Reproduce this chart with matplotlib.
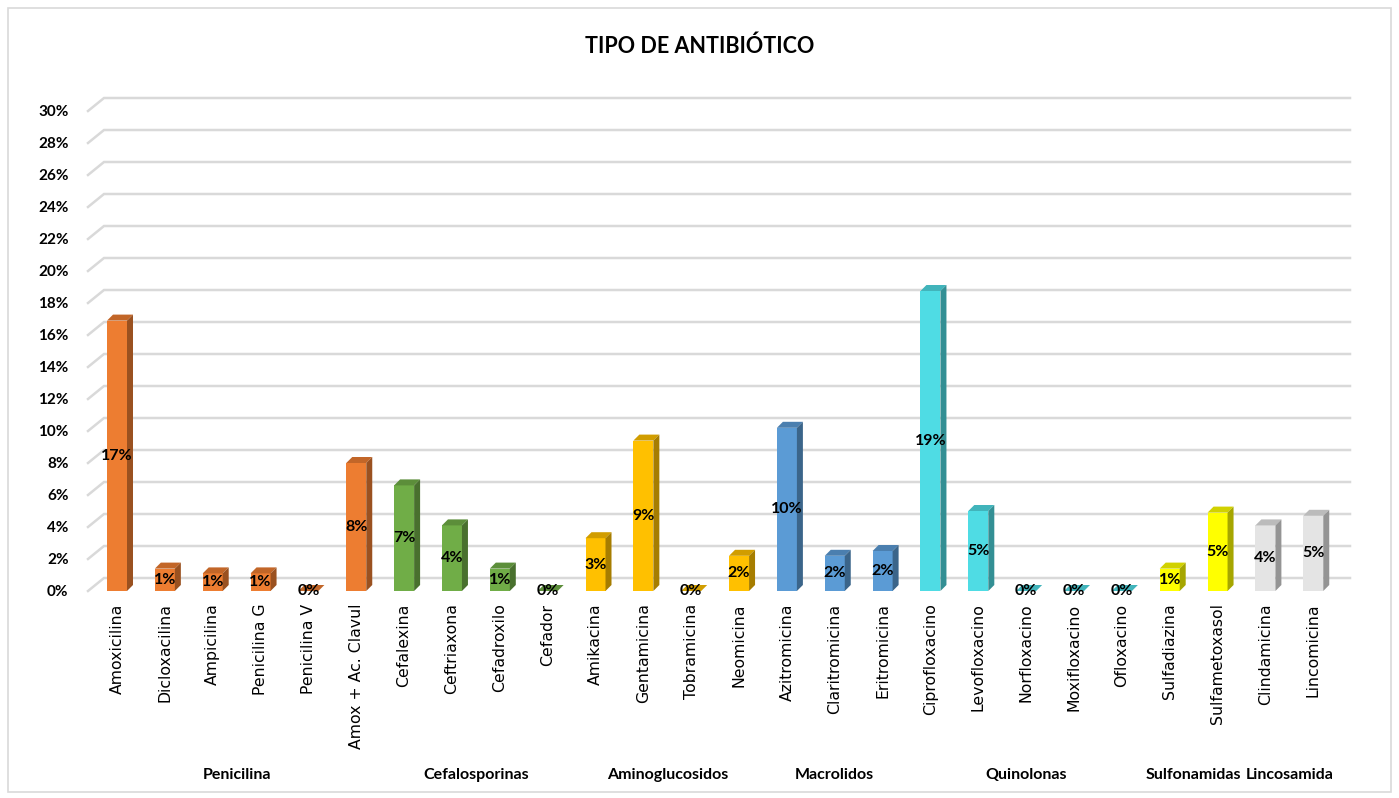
import matplotlib.pyplot as plt
import matplotlib.colors as mcolors
from matplotlib.patches import Polygon, Rectangle
from matplotlib.transforms import blended_transform_factory

# data
drugs = ['Amoxicilina', 'Dicloxacilina', 'Ampicilina', 'Penicilina G', 'Penicilina V',
         'Amox + Ac. Clavul', 'Cefalexina', 'Ceftriaxona', 'Cefadroxilo', 'Cefador',
         'Amikacina', 'Gentamicina', 'Tobramicina', 'Neomicina', 'Azitromicina',
         'Claritromicina', 'Eritromicina', 'Ciprofloxacino', 'Levofloxacino',
         'Norfloxacino', 'Moxifloxacino', 'Ofloxacino', 'Sulfadiazina',
         'Sulfametoxasol', 'Clindamicina', 'Lincomicina']
values = [16.9, 1.4, 1.1, 1.1, 0.0,
          8.0, 6.6, 4.1, 1.4, 0.0,
          3.3, 9.4, 0.0, 2.2, 10.2,
          2.2, 2.5, 18.75, 5.0,
          0.0, 0.0, 0.0, 1.4,
          4.9, 4.1, 4.7]
labels = ['17%', '1%', '1%', '1%', '0%', '8%', '7%', '4%', '1%', '0%',
          '3%', '9%', '0%', '2%', '10%', '2%', '2%', '19%', '5%',
          '0%', '0%', '0%', '1%', '5%', '4%', '5%']
groups = ['Penicilina', 'Cefalosporinas', 'Aminoglucosidos', 'Macrolidos',
          'Quinolonas', 'Sulfonamidas', 'Lincosamida']
group_sizes = [6, 4, 4, 3, 5, 2, 2]
group_colors = ['#ED7D31', '#70AD47', '#FFC000', '#5B9BD5', '#4FDCE4', '#FFFF00', '#E4E4E4']

bar_colors = []
for c, n in zip(group_colors, group_sizes):
    bar_colors += [c] * n


def shade(color, f):
    r, g, b = mcolors.to_rgb(color)
    return (r * f, g * f, b * f)


W, H = 1399, 798
fig = plt.figure(figsize=(W / 100, H / 100), dpi=100)
fig.patches.append(Rectangle((8 / W, 6 / H), 1383 / W, 784 / H, transform=fig.transFigure,
                             fill=False, edgecolor='#D9D9D9', linewidth=1.2))

left_px, right_px, y0_px, y30_px = 88, 1350, 591, 111
ax = fig.add_axes([left_px / W, 1 - y0_px / H, (right_px - left_px) / W, (y0_px - y30_px) / H])

step_px = 47.85
x_first = 117
xl = (left_px - x_first) / step_px
xr = (right_px - x_first) / step_px
ax.set_xlim(xl, xr)
ax.set_ylim(0, 30)

px_x = 1 / step_px          # data units per pixel (x)
px_y = 30 / (y0_px - y30_px)  # data units per pixel (y)

# gridlines with floor depth
gdx, gdy = 16 * px_x, 13 * px_y
for v in range(0, 31, 2):
    ax.plot([xl, xl + gdx, xr], [v, v + gdy, v + gdy], color='#D9D9D9', lw=1.8,
            clip_on=False, zorder=1, solid_joinstyle='miter')

# bars with a fake 3D look
bw = 20 * px_x
bdx, bdy = 6 * px_x, 6 * px_y
xs = list(range(len(drugs)))
ax.bar(xs, values, width=bw, color=bar_colors, zorder=3)
for x, v, c in zip(xs, values, bar_colors):
    x0, x1 = x - bw / 2, x + bw / 2
    top = Polygon([(x0, v), (x1, v), (x1 + bdx, v + bdy), (x0 + bdx, v + bdy)],
                  closed=True, facecolor=shade(c, 0.82), edgecolor='none', zorder=3)
    ax.add_patch(top)
    if v > 0:
        side = Polygon([(x1, 0), (x1 + bdx, bdy), (x1 + bdx, v + bdy), (x1, v)],
                       closed=True, facecolor=shade(c, 0.65), edgecolor='none', zorder=3)
        ax.add_patch(side)

for x, v, lab in zip(xs, values, labels):
    ypos = v / 2 if v > 0 else 0.0
    ax.text(x, ypos, lab, ha='center', va='center', fontsize=11.5, fontweight='bold',
            family='Lato', color='black', zorder=5)

ax.set_yticks(range(0, 31, 2))
ax.set_yticklabels([f'{v}%' for v in range(0, 31, 2)], fontsize=11, fontweight='bold',
                   family='Lato')
ax.set_xticks(xs)
ax.set_xticklabels(drugs, rotation=90, fontsize=11.3, family='DejaVu Sans', va='top')
ax.tick_params(axis='both', length=0)
ax.tick_params(axis='x', pad=9)
ax.tick_params(axis='y', pad=14)
for s in ax.spines.values():
    s.set_visible(False)

# group labels under the drug names
trans = blended_transform_factory(ax.transData, fig.transFigure)
start = 0
for g, n in zip(groups, group_sizes):
    center = start + (n - 1) / 2
    ax.text(center, 1 - 775 / H, g, transform=trans, ha='center', va='center',
            fontsize=11.5, fontweight='bold', family='Lato')
    start += n

fig.text(0.5, 1 - 46 / H, 'TIPO DE ANTIBIÓTICO', ha='center', va='center',
         fontsize=15.5, fontweight='bold', family='Lato')

fig.savefig('out.png', dpi=100, facecolor='white')
